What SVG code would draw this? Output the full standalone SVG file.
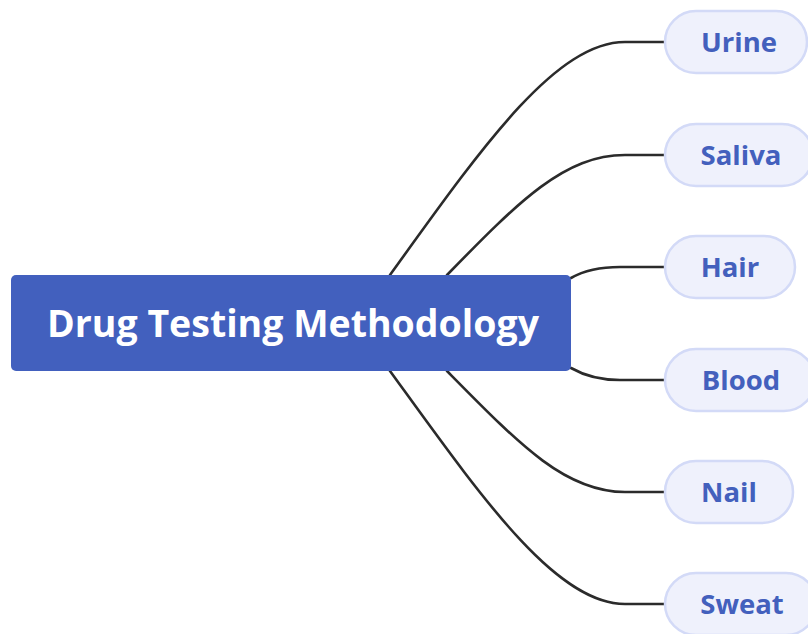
<svg xmlns="http://www.w3.org/2000/svg" width="808" height="634" viewBox="0 0 808 634">
<style>
.conn{fill:none;stroke:#2b2b2b;stroke-width:2.6;stroke-linecap:round}
.child rect{fill:#eff1fc;stroke:#d3daf7;stroke-width:2.5}
.child text{font-family:"Open Sans","Liberation Sans",sans-serif;font-weight:bold;font-size:27.5px;fill:#4360bd;text-anchor:middle}
.root rect{fill:#4260be}
.root text{font-family:"Open Sans","Liberation Sans",sans-serif;font-weight:bold;font-size:37.5px;fill:#ffffff;text-anchor:middle}
</style>
<rect width="808" height="634" fill="#ffffff"/>
<g id="connectors">
<path class="conn" d="M390,275 C480,150 555,42 625,42 L665,42"/>
<path class="conn" d="M447,275 C520,200 565,155 625,155 L665,155"/>
<path class="conn" d="M571,278 C585,270 600,267 620,267 L665,267"/>
<path class="conn" d="M571,368 C585,376 600,380 620,380 L665,380"/>
<path class="conn" d="M447,371 C520,445 565,492 625,492 L665,492"/>
<path class="conn" d="M390,371 C480,495 555,604 625,604 L665,604"/>
</g>
<g id="root" class="root">
<rect x="11" y="275" width="560" height="96" rx="5"/>
<text x="293" y="337">Drug Testing Methodology</text>
</g>
<g id="urine" class="child">
<rect x="665" y="11" width="142" height="62" rx="31"/>
<text x="739" y="52">Urine</text>
</g>
<g id="saliva" class="child">
<rect x="665" y="124" width="148" height="62" rx="31"/>
<text x="741" y="165">Saliva</text>
</g>
<g id="hair" class="child">
<rect x="665" y="236" width="130" height="62" rx="31"/>
<text x="730" y="277">Hair</text>
</g>
<g id="blood" class="child">
<rect x="665" y="349" width="150" height="62" rx="31"/>
<text x="741" y="390">Blood</text>
</g>
<g id="nail" class="child">
<rect x="665" y="461" width="128" height="62" rx="31"/>
<text x="729" y="502">Nail</text>
</g>
<g id="sweat" class="child">
<rect x="665" y="573" width="152" height="62" rx="31"/>
<text x="742" y="614">Sweat</text>
</g>
</svg>
